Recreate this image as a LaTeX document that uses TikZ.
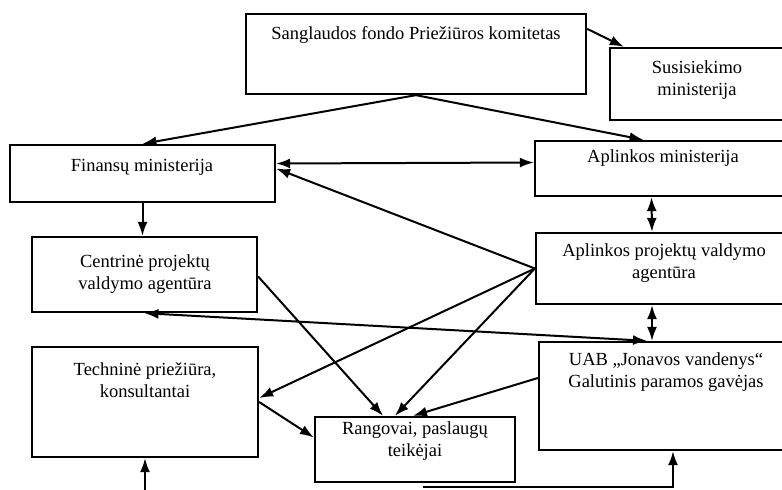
\documentclass[tikz,border=0pt]{standalone}
\usepackage{fontspec}
\setmainfont{Liberation Serif}
\usetikzlibrary{arrows.meta}
\begin{document}
\begin{tikzpicture}[x=1pt,y=-1pt,
  box/.style={draw,line width=2.3pt,rectangle,inner sep=0pt},
  txt/.style={align=center,inner sep=0pt,font=\fontsize{18.5}{22}\selectfont},
  conn/.style={line width=2pt},
  arr/.style={conn,-{Latex[length=14pt,width=10pt]}},
  dbl/.style={conn,{Latex[length=14pt,width=10pt]}-{Latex[length=14pt,width=10pt]}}]
\useasboundingbox (0,0) rectangle (782,490);
\clip (0,0) rectangle (782,490);
\fill[white] (0,0) rectangle (782,490);
% boxes
\node[box,minimum width=340pt,minimum height=80pt] (S) at (416,54) {};
\node[box,minimum width=182pt,minimum height=72pt] (SM) at (701,84) {};
\node[box,minimum width=265pt,minimum height=57pt] (F) at (142.5,173.5) {};
\node[box,minimum width=257pt,minimum height=55pt] (AM) at (663.5,168.5) {};
\node[box,minimum width=225pt,minimum height=75pt] (C) at (144.5,274.5) {};
\node[box,minimum width=256pt,minimum height=71pt] (A) at (664,268.5) {};
\node[box,minimum width=226pt,minimum height=110pt] (T) at (145,402) {};
\node[box,minimum width=200pt,minimum height=65pt] (R) at (415,449.5) {};
\node[box,minimum width=254pt,minimum height=108pt] (U) at (666,396) {};
% texts
\node[txt] (St) at (416,35) {Sanglaudos fondo Priežiūros komitetas};
\node[txt] (SMt) at (697,80) {Susisiekimo\\ministerija};
\node[txt] (Ft) at (142,167) {Finansų ministerija};
\node[txt] (AMt) at (663,158) {Aplinkos ministerija};
\node[txt] (Ct) at (145,274) {Centrinė projektų\\valdymo agentūra};
\node[txt] (At) at (664,263) {Aplinkos projektų valdymo\\agentūra};
\node[txt] (Tt) at (145,380) {Techninė priežiūra,\\konsultantai};
\node[txt] (Rt) at (415,441) {Rangovai, paslaugų\\teikėjai};
\node[txt] (Ut) at (666,372) {UAB „Jonavos vandenys“\\Galutinis paramos gavėjas};
% free ends
\coordinate (tb) at (145,492);
\coordinate (ub) at (423,487);
% connectors
\draw[arr] (S.south) -- (F.north);
\draw[arr] (S.south) -- ([xshift=-20pt]AM.north);
\draw[arr] ([yshift=-16pt]S.north east) -- ([xshift=15pt]SM.north west);
\draw[dbl] ([yshift=10pt]F.east) -- ([yshift=6pt]AM.west);
\draw[arr] (A.west) -- ([yshift=5pt]F.east);
\draw[arr] (F.south) -- (F.south |- C.north);
\draw[dbl] ([xshift=-12pt]AM.south) -- ([xshift=-12pt]A.north);
\draw[dbl] ([xshift=-12pt]A.south) -- ([xshift=-14pt]U.north);
\draw[dbl] (C.south) -- ([xshift=-19pt]U.north);
\draw[arr] (A.west) -- ([yshift=4pt]T.east);
\draw[arr] (A.west) -- ([xshift=-20pt]R.north);
\draw[arr] ([yshift=-2pt]C.east) -- ([xshift=-32pt]R.north);
\draw[arr] ([yshift=18pt]U.west) -- ([xshift=-2pt]R.north);
\draw[arr] (T.east) -- ([yshift=12pt]R.west);
\draw[arr] (tb) -- (T.south);
\draw[arr] (ub) -| ([xshift=7pt]U.south);
\end{tikzpicture}
\end{document}
